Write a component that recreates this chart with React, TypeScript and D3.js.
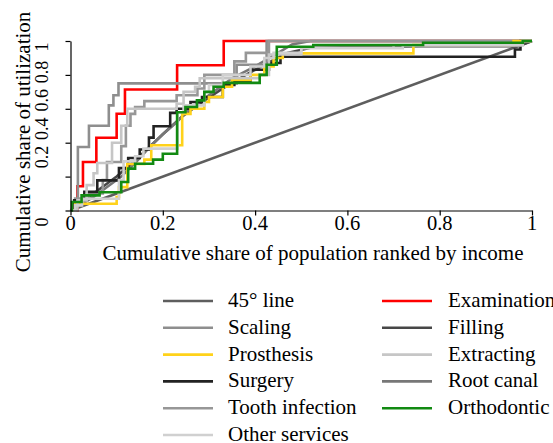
import React, { useEffect, useRef } from "react";
import * as d3 from "d3";

// concentration curves, [share of population, share of utilization]
const diagonal: [number, number][] = [[0, 0], [1, 1]];
const examination: [number, number][] = [
  [0, 0], [0.015, 0.143], [0.027, 0.286], [0.056, 0.429], [0.1, 0.571],
  [0.118, 0.714], [0.231, 0.857], [0.332, 1], [1, 1],
];
const scaling: [number, number][] = [
  [0, 0], [0.005, 0.04], [0.016, 0.375], [0.04, 0.5], [0.083, 0.62],
  [0.093, 0.68], [0.104, 0.75], [0.36, 0.86], [0.425, 1], [1, 1],
];
const filling: [number, number][] = [
  [0, 0], [0.05, 0.1], [0.1, 0.2], [0.15, 0.32], [0.2, 0.45], [0.24, 0.55],
  [0.28, 0.63], [0.33, 0.72], [0.38, 0.8], [0.42, 0.86], [0.47, 0.93],
  [0.52, 0.96], [0.76, 0.97], [0.97, 0.97], [1, 1],
];
const prosthesis: [number, number][] = [
  [0, 0], [0.01, 0.04], [0.1, 0.08], [0.105, 0.138], [0.123, 0.274],
  [0.16, 0.3], [0.175, 0.385], [0.242, 0.57], [0.26, 0.6], [0.29, 0.64],
  [0.3, 0.67], [0.33, 0.73], [0.35, 0.77], [0.39, 0.8], [0.42, 0.85],
  [0.44, 0.9], [0.46, 0.927], [0.743, 0.976], [0.96, 1], [1, 1],
];
const extracting: [number, number][] = [
  [0, 0], [0.015, 0.06], [0.035, 0.15], [0.05, 0.22], [0.058, 0.28],
  [0.09, 0.4], [0.11, 0.5], [0.123, 0.6], [0.23, 0.63], [0.245, 0.7],
  [0.27, 0.73], [0.28, 0.78], [0.41, 0.8], [0.43, 0.92], [0.5, 0.96],
  [0.7, 0.975], [0.98, 1], [1, 1],
];
const surgery: [number, number][] = [
  [0, 0], [0.008, 0.06], [0.03, 0.11], [0.058, 0.178], [0.105, 0.25],
  [0.125, 0.31], [0.15, 0.36], [0.17, 0.43], [0.18, 0.497], [0.216, 0.576],
  [0.23, 0.6], [0.26, 0.64], [0.285, 0.67], [0.33, 0.74], [0.355, 0.76],
  [0.39, 0.83], [0.43, 0.87], [0.455, 0.907], [0.963, 0.95], [0.975, 1], [1, 1],
];
const rootCanal: [number, number][] = [
  [0, 0], [0.02, 0.03], [0.05, 0.08], [0.08, 0.14], [0.11, 0.2], [0.14, 0.28],
  [0.17, 0.37], [0.2, 0.45], [0.23, 0.52], [0.25, 0.58], [0.28, 0.64],
  [0.31, 0.7], [0.35, 0.78], [0.4, 0.85], [0.45, 0.93], [0.48, 0.98],
  [0.52, 1], [1, 1],
];
const toothInfection: [number, number][] = [
  [0, 0], [0.01, 0.07], [0.04, 0.1], [0.07, 0.18], [0.079, 0.286],
  [0.11, 0.38], [0.12, 0.5], [0.13, 0.57], [0.14, 0.61], [0.16, 0.645],
  [0.23, 0.68], [0.275, 0.72], [0.29, 0.8], [0.355, 0.88], [0.38, 0.93],
  [0.43, 1], [1, 1],
];
const orthodontic: [number, number][] = [
  [0, 0], [0.003, 0.05], [0.024, 0.089], [0.063, 0.108], [0.11, 0.168],
  [0.125, 0.247], [0.14, 0.276], [0.179, 0.3], [0.2, 0.335], [0.231, 0.58],
  [0.249, 0.611], [0.274, 0.65], [0.29, 0.7], [0.31, 0.73], [0.332, 0.753],
  [0.41, 0.8], [0.425, 0.86], [0.447, 0.966], [0.526, 0.976], [0.764, 0.99],
  [0.98, 1], [1, 1],
];
const otherServices: [number, number][] = [
  [0, 0], [0.01, 0.03], [0.025, 0.069], [0.105, 0.18], [0.115, 0.29],
  [0.14, 0.32], [0.158, 0.365], [0.232, 0.58], [0.245, 0.62], [0.29, 0.7],
  [0.3, 0.74], [0.33, 0.8], [0.39, 0.85], [0.42, 0.9], [0.44, 0.93],
  [0.5, 0.957], [0.72, 0.975], [0.98, 1], [1, 1],
];

const ticks = [0, 0.2, 0.4, 0.6, 0.8, 1];

// legend order (two columns, filled row by row)
const series = [
  { name: "45° line", data: diagonal, color: "#5e5e5e", step: false },
  { name: "Examination", data: examination, color: "#ff0000", step: true },
  { name: "Scaling", data: scaling, color: "#8e8e8e", step: true },
  { name: "Filling", data: filling, color: "#474747", step: false },
  { name: "Prosthesis", data: prosthesis, color: "#ffd21a", step: true },
  { name: "Extracting", data: extracting, color: "#c6c6c6", step: true },
  { name: "Surgery", data: surgery, color: "#222222", step: true },
  { name: "Root canal", data: rootCanal, color: "#777777", step: false },
  { name: "Tooth infection", data: toothInfection, color: "#979797", step: true },
  { name: "Orthodontic", data: orthodontic, color: "#128a12", step: true },
  { name: "Other services", data: otherServices, color: "#d0d0d0", step: true },
];
// drawing order: red below the greys that reach the top, green last
const drawOrder = [0, 1, 3, 7, 2, 8, 6, 4, 5, 10, 9];

const App = () => {
  const ref = useRef<SVGSVGElement>(null);

  useEffect(() => {
    const svg = d3.select(ref.current);
    svg.selectAll("*").remove();
    const font = "'Liberation Serif', 'Times New Roman', serif";

    const x = d3.scaleLinear().domain([0, 1]).range([70.5, 532]);
    const y = d3.scaleLinear().domain([0, 1]).range([210.5, 41]);

    // lines
    const g = svg.append("g");
    drawOrder.forEach((i) => {
      const s = series[i];
      const line = d3
        .line<[number, number]>()
        .x((d) => x(d[0]))
        .y((d) => y(d[1]))
        .curve(s.step ? d3.curveStepAfter : d3.curveLinear);
      g.append("path")
        .attr("d", line(s.data))
        .attr("fill", "none")
        .attr("stroke", s.color)
        .attr("stroke-width", 2.6);
    });

    // axes
    const xAxis = svg
      .append("g")
      .attr("transform", `translate(0, 210.5)`)
      .call(d3.axisBottom(x).tickValues(ticks).tickSize(5).tickSizeOuter(0).tickFormat(() => ""));
    const yAxis = svg
      .append("g")
      .attr("transform", `translate(70.5, 0)`)
      .call(d3.axisLeft(y).tickValues(ticks).tickSize(5).tickSizeOuter(0).tickFormat(() => ""));
    [xAxis, yAxis].forEach((a) => a.selectAll("path, line").attr("stroke", "#000").attr("stroke-width", 1.2));

    svg
      .append("g")
      .selectAll("text")
      .data(ticks)
      .join("text")
      .attr("x", (d) => x(d))
      .attr("y", 229.5)
      .attr("text-anchor", "middle")
      .style("font-family", font)
      .style("font-size", "20.5px")
      .text((d) => d3.format("")(d));

    // y labels sit a bit apart from their ticks in the reference
    const yLab = d3.scaleLinear().domain([0, 0.2, 0.8, 1]).range([222, 157, 72, 47]);
    svg
      .append("g")
      .selectAll("text")
      .data(ticks)
      .join("text")
      .attr("transform", (d) => `translate(48, ${yLab(d)}) rotate(-90)`)
      .attr("text-anchor", "middle")
      .style("font-family", font)
      .style("font-size", "18px")
      .text((d) => d3.format("")(d));

    svg
      .append("text")
      .attr("x", 313)
      .attr("y", 260)
      .attr("text-anchor", "middle")
      .style("font-family", font)
      .style("font-size", "21px")
      .text("Cumulative share of population ranked by income");

    svg
      .append("text")
      .attr("transform", "translate(30, 142) rotate(-90)")
      .attr("text-anchor", "middle")
      .style("font-family", font)
      .style("font-size", "21px")
      .text("Cumulative share of utilization");

    // legend
    const leg = svg
      .append("g")
      .selectAll("g")
      .data(series)
      .join("g")
      .attr("transform", (d, i) => `translate(${i % 2 === 0 ? 163 : 382}, ${301 + Math.floor(i / 2) * 26.8})`);
    leg
      .append("line")
      .attr("x1", 0)
      .attr("x2", 50)
      .attr("stroke", (d) => d.color)
      .attr("stroke-width", 2.6);
    leg
      .append("text")
      .attr("x", (d, i) => (i % 2 === 0 ? 65 : 66))
      .attr("y", 6)
      .style("font-family", font)
      .style("font-size", "21px")
      .text((d) => d.name);
  }, []);

  return (
    <svg
      ref={ref}
      width={553}
      height={443}
      style={{ position: "absolute", left: 0, top: 0, background: "#fff" }}
    />
  );
};

export default App;
